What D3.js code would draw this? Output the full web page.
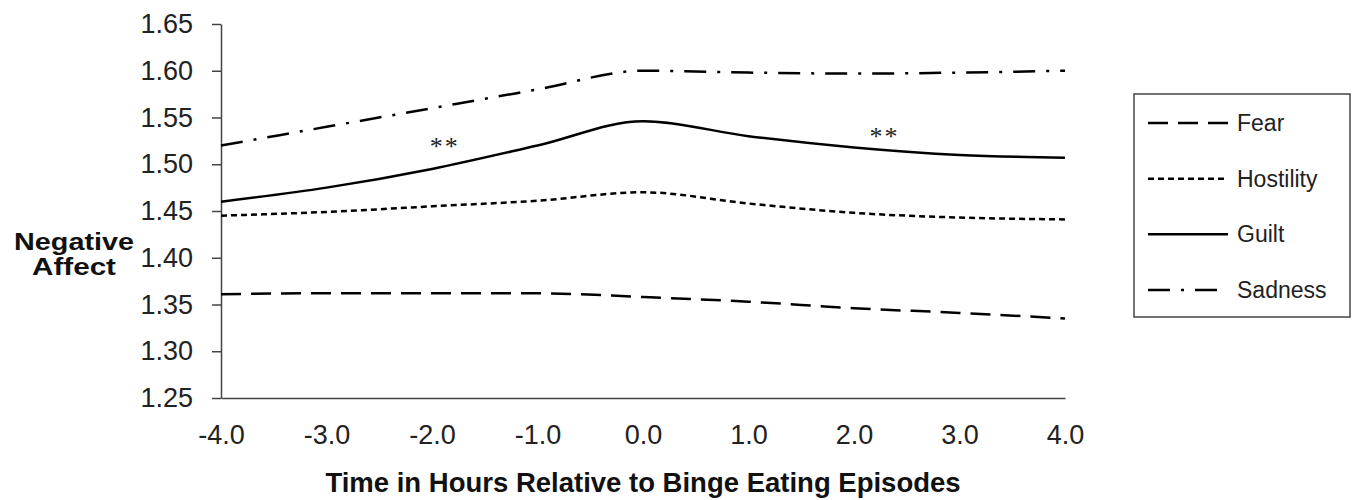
<!DOCTYPE html>
<html>
<head>
<meta charset="utf-8">
<script src="https://cdn.jsdelivr.net/npm/d3@7"></script>
<style>
  body { margin: 0; background: #fff; }
  svg { display: block; font-family: "Liberation Sans", Arial, sans-serif; }
</style>
</head>
<body>
<svg width="1355" height="500"></svg>
<script>
// data
const hours = [-4, -3, -2, -1, 0, 1, 2, 3, 4];
const fear      = [1.361, 1.362, 1.362, 1.362, 1.358, 1.353, 1.346, 1.341, 1.335];
const hostility = [1.445, 1.449, 1.455, 1.461, 1.470, 1.458, 1.448, 1.443, 1.441];
const guilt     = [1.460, 1.475, 1.495, 1.520, 1.546, 1.530, 1.518, 1.510, 1.507];
const sadness   = [1.520, 1.540, 1.560, 1.580, 1.600, 1.598, 1.597, 1.598, 1.600];
const seriesNames = ["Fear", "Hostility", "Guilt", "Sadness"];
const yTicks = [1.25, 1.30, 1.35, 1.40, 1.45, 1.50, 1.55, 1.60, 1.65];
const xTicks = [-4, -3, -2, -1, 0, 1, 2, 3, 4];
// "**" markers (hour, value)
const stars = [[-1.88, 1.524], [2.29, 1.535]];

const series = [fear, hostility, guilt, sadness];
const dashes = ["20,10", "6,4", null, "22,11,3,11"];

const svg = d3.select("svg");

const x = d3.scaleLinear().domain([-4, 4]).range([221, 1065]);
const y = d3.scaleLinear().domain([1.25, 1.65]).range([398, 24]);

// y axis
const yAxis = svg.append("g")
    .attr("transform", "translate(221,0)")
    .call(d3.axisLeft(y).tickValues(yTicks).tickFormat(d => d.toFixed(2))
        .tickSize(9).tickSizeOuter(0).tickPadding(19));
yAxis.selectAll("text").attr("font-size", 27).attr("fill", "#222")
    .attr("font-family", "Liberation Sans, Arial, sans-serif");

// x axis
const xAxis = svg.append("g")
    .attr("transform", "translate(0,398)")
    .call(d3.axisBottom(x).tickValues(xTicks).tickFormat(d => d.toFixed(1))
        .tickSize(0).tickPadding(27));
xAxis.selectAll("text").attr("font-size", 27).attr("fill", "#222")
    .attr("font-family", "Liberation Sans, Arial, sans-serif");

svg.selectAll(".domain, .tick line").attr("stroke", "#444").attr("stroke-width", 1.5);

// lines
const line = d3.line()
    .x((d, i) => x(hours[i]))
    .y(d => y(d))
    .curve(d3.curveMonotoneX);

svg.selectAll("path.series")
    .data(series)
    .enter()
    .append("path")
    .attr("class", "series")
    .attr("d", line)
    .attr("fill", "none")
    .attr("stroke", "#000")
    .attr("stroke-width", 2.5)
    .attr("stroke-dasharray", (d, i) => dashes[i]);

// significance markers
svg.selectAll("text.star")
    .data(stars)
    .enter()
    .append("text")
    .attr("class", "star")
    .attr("x", d => x(d[0]))
    .attr("y", d => y(d[1]) + 13)
    .attr("text-anchor", "middle")
    .attr("font-family", "Liberation Serif, Times New Roman, serif")
    .attr("font-size", 26)
    .attr("letter-spacing", 2)
    .attr("fill", "#222")
    .text("**");

// axis titles
svg.append("text")
    .attr("x", 643).attr("y", 492)
    .attr("text-anchor", "middle")
    .attr("font-weight", "bold")
    .attr("font-size", 27.5)
    .attr("fill", "#111")
    .text("Time in Hours Relative to Binge Eating Episodes");

const yTitle = svg.append("text")
    .attr("text-anchor", "middle")
    .attr("font-weight", "bold")
    .attr("font-size", 24)
    .attr("fill", "#111");
yTitle.append("tspan").attr("x", 74).attr("y", 250)
    .attr("textLength", 120).attr("lengthAdjust", "spacingAndGlyphs").text("Negative");
yTitle.append("tspan").attr("x", 74).attr("y", 275)
    .attr("textLength", 84).attr("lengthAdjust", "spacingAndGlyphs").text("Affect");

// legend
const legend = svg.append("g");
legend.append("rect")
    .attr("x", 1134).attr("y", 94)
    .attr("width", 216).attr("height", 223)
    .attr("fill", "#fff")
    .attr("stroke", "#444")
    .attr("stroke-width", 1.5);

const legendY = d3.scalePoint().domain(seriesNames).range([123, 290]);

const items = legend.selectAll("g.item")
    .data(seriesNames)
    .enter()
    .append("g")
    .attr("class", "item")
    .attr("transform", d => "translate(0," + legendY(d) + ")");

items.append("line")
    .attr("x1", 1148).attr("x2", 1228)
    .attr("stroke", "#000")
    .attr("stroke-width", 2.5)
    .attr("stroke-dasharray", (d, i) => dashes[i]);

items.append("text")
    .attr("x", 1237).attr("y", 8)
    .attr("font-size", 23)
    .attr("fill", "#222")
    .text(d => d);
</script>
</body>
</html>
